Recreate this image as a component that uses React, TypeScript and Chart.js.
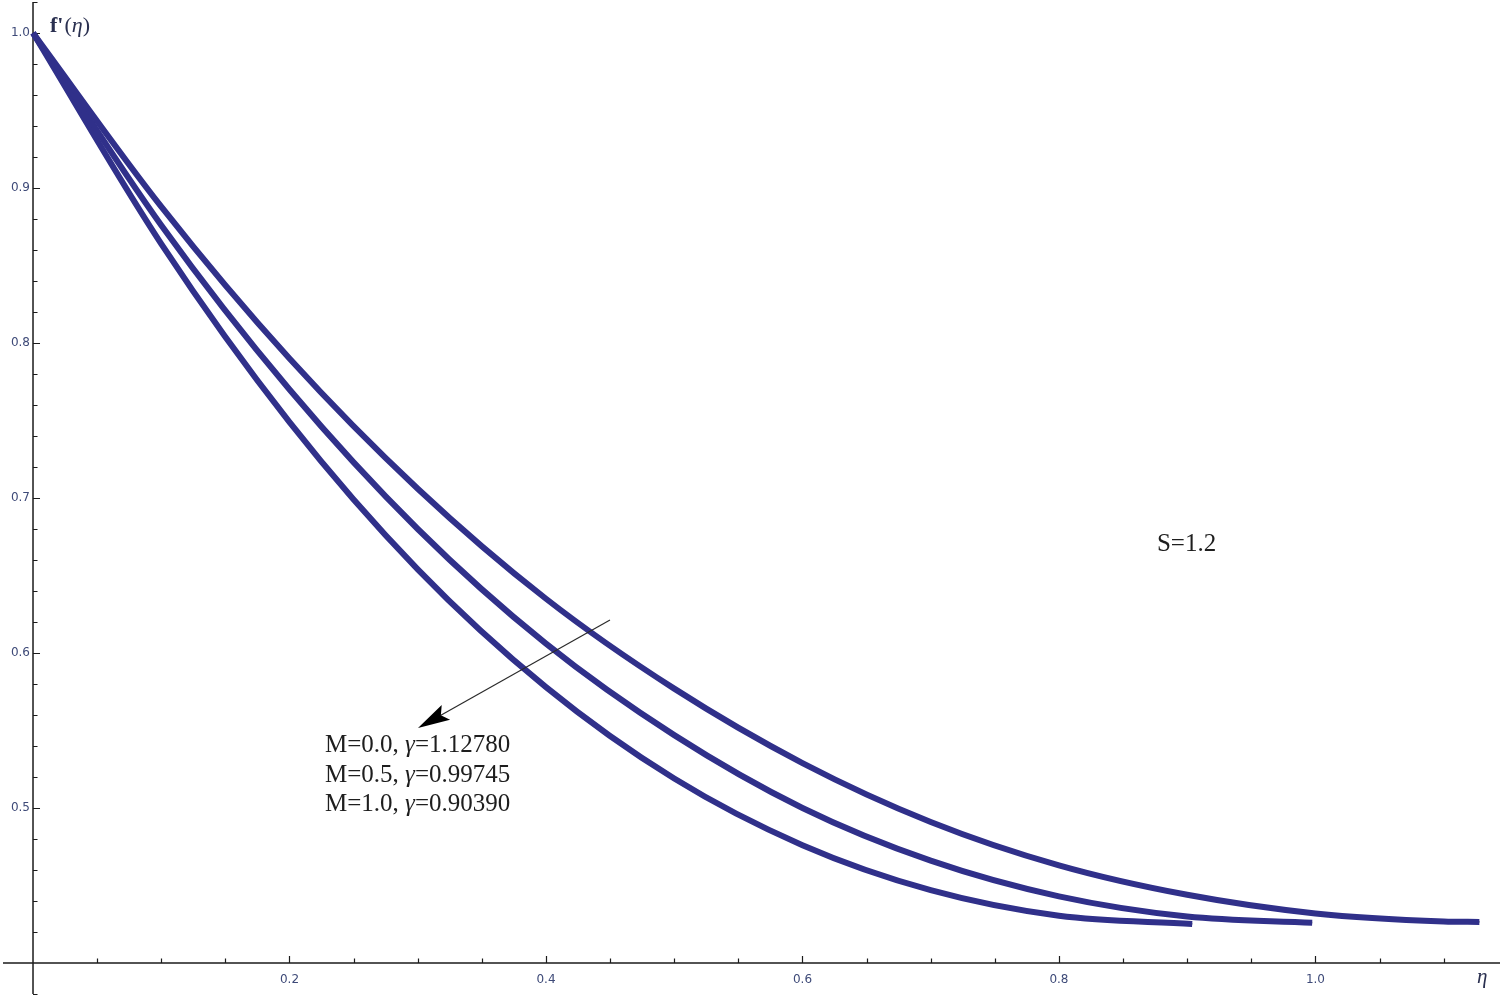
import React, { useEffect, useRef } from "react";
import { Chart, registerables } from "chart.js";

Chart.register(...registerables);

// ---- data ----
const etaM00 = [0, 0.1, 0.2, 0.3, 0.4, 0.5, 0.6, 0.7, 0.8, 0.9, 1.0, 1.1, 1.1278];
const fM00 = [1.0, 0.888, 0.79, 0.706, 0.635, 0.577, 0.529, 0.491, 0.463, 0.444, 0.432, 0.4268, 0.4265];

const etaM05 = [0, 0.1, 0.2, 0.3, 0.4, 0.5, 0.6, 0.7, 0.8, 0.9, 0.99745];
const fM05 = [1.0, 0.876, 0.77, 0.68, 0.606, 0.547, 0.5, 0.466, 0.443, 0.43, 0.426];

const etaM10 = [0, 0.1, 0.2, 0.3, 0.4, 0.5, 0.6, 0.7, 0.8, 0.9039];
const fM10 = [1.0, 0.864, 0.749, 0.654, 0.578, 0.519, 0.476, 0.447, 0.4305, 0.4252];

const xTickValues = [0.2, 0.4, 0.6, 0.8, 1.0];
const xTickLabels = ["0.2", "0.4", "0.6", "0.8", "1.0"];
const yTickValues = [0.5, 0.6, 0.7, 0.8, 0.9, 1.0];
const yTickLabels = ["0.5", "0.6", "0.7", "0.8", "0.9", "1.0"];
const xMinorValues = [0.05, 0.1, 0.15, 0.25, 0.3, 0.35, 0.45, 0.5, 0.55, 0.65, 0.7, 0.75, 0.85, 0.9, 0.95, 1.05, 1.1];
const yMinorValues = [0.38, 0.42, 0.44, 0.46, 0.48, 0.52, 0.54, 0.56, 0.58, 0.62, 0.64, 0.66, 0.68, 0.72, 0.74, 0.76, 0.78, 0.82, 0.84, 0.86, 0.88, 0.92, 0.94, 0.96, 0.98, 1.02];

const legendM = ["0.0", "0.5", "1.0"];
const legendGamma = ["1.12780", "0.99745", "0.90390"];
const paramText = "S=1.2";

const xMin = -0.0234;
const xMax = 1.1439;
const yMin = 0.38;
const yMax = 1.02;
const xAxisAt = 0.4;
const yAxisAt = 0;

const arrowFrom = { x: 0.4499, y: 0.6213 };
const arrowTo = { x: 0.3002, y: 0.5516 };
const paramPos = { x: 0.8764, y: 0.6658 };
const legendPos = { x: 0.2277, y: 0.5361 };

const toPts = (xs: number[], ys: number[]) => xs.map((x, i) => ({ x, y: ys[i] }));

const axesPlugin = {
  id: "mathAxes",
  beforeDatasetsDraw(chart: any) {
    const ctx = chart.ctx;
    const xs = chart.scales.x;
    const ys = chart.scales.y;
    const area = chart.chartArea;
    const x0 = xs.getPixelForValue(yAxisAt);
    const y0 = ys.getPixelForValue(xAxisAt);
    ctx.save();
    ctx.strokeStyle = "#1b1b1b";
    ctx.lineWidth = 1.5;
    ctx.beginPath();
    ctx.moveTo(area.left, y0);
    ctx.lineTo(area.right, y0);
    ctx.moveTo(x0, area.top);
    ctx.lineTo(x0, area.bottom);
    ctx.stroke();
    ctx.lineWidth = 1.2;
    ctx.beginPath();
    xTickValues.forEach((v) => {
      const px = Math.round(xs.getPixelForValue(v)) + 0.5;
      ctx.moveTo(px, y0);
      ctx.lineTo(px, y0 - 7);
    });
    xMinorValues.forEach((v) => {
      const px = Math.round(xs.getPixelForValue(v)) + 0.5;
      ctx.moveTo(px, y0);
      ctx.lineTo(px, y0 - 4.5);
    });
    yTickValues.forEach((v) => {
      const py = Math.round(ys.getPixelForValue(v)) + 0.5;
      ctx.moveTo(x0, py);
      ctx.lineTo(x0 + 7, py);
    });
    yMinorValues.forEach((v) => {
      const py = Math.round(ys.getPixelForValue(v)) + 0.5;
      ctx.moveTo(x0, py);
      ctx.lineTo(x0 + 4.5, py);
    });
    ctx.stroke();

    ctx.fillStyle = "#3e4a78";
    ctx.font = '12px "DejaVu Sans"';
    ctx.textAlign = "center";
    ctx.textBaseline = "alphabetic";
    xTickValues.forEach((v, i) => {
      ctx.fillText(xTickLabels[i], xs.getPixelForValue(v), y0 + 20);
    });
    ctx.textAlign = "right";
    ctx.textBaseline = "middle";
    yTickValues.forEach((v, i) => {
      ctx.fillText(yTickLabels[i], x0 - 3, ys.getPixelForValue(v));
    });
    ctx.restore();
  },
  afterDraw(chart: any) {
    const ctx = chart.ctx;
    const xs = chart.scales.x;
    const ys = chart.scales.y;
    const x0 = xs.getPixelForValue(yAxisAt);
    const y0 = ys.getPixelForValue(xAxisAt);
    ctx.save();

    // axis labels
    ctx.fillStyle = "#2a3050";
    ctx.textAlign = "left";
    ctx.textBaseline = "alphabetic";
    let cx = x0 + 17;
    const by = ys.getPixelForValue(1.0) - 1;
    const segs: [string, string][] = [
      ["f'", 'bold 22px "Liberation Serif"'],
      ["(", '22px "Liberation Serif"'],
      ["\u03b7", 'italic 22px "Liberation Serif"'],
      [")", '22px "Liberation Serif"'],
    ];
    segs.forEach(([t, f]) => {
      ctx.font = f;
      ctx.fillText(t, cx, by);
      cx += ctx.measureText(t).width + (t === "f'" ? 1 : 0);
    });
    ctx.font = 'italic 21px "Liberation Serif"';
    ctx.textAlign = "center";
    ctx.fillText("\u03b7", xs.getPixelForValue(1.13), y0 + 20);

    // arrow
    const fx = xs.getPixelForValue(arrowFrom.x);
    const fy = ys.getPixelForValue(arrowFrom.y);
    const tx = xs.getPixelForValue(arrowTo.x);
    const ty = ys.getPixelForValue(arrowTo.y);
    const dx = tx - fx;
    const dy = ty - fy;
    const len = Math.hypot(dx, dy);
    const ux = dx / len;
    const uy = dy / len;
    const hl = 32;
    const hw = 8.5;
    const bx = tx - ux * hl;
    const byy = ty - uy * hl;
    const nx = tx - ux * hl * 0.82;
    const ny = ty - uy * hl * 0.82;
    ctx.strokeStyle = "#2a2a2a";
    ctx.lineWidth = 1.2;
    ctx.beginPath();
    ctx.moveTo(fx, fy);
    ctx.lineTo(nx, ny);
    ctx.stroke();
    ctx.fillStyle = "#000";
    ctx.beginPath();
    ctx.moveTo(tx, ty);
    ctx.lineTo(bx - uy * hw, byy + ux * hw);
    ctx.lineTo(nx, ny);
    ctx.lineTo(bx + uy * hw, byy - ux * hw);
    ctx.closePath();
    ctx.fill();

    // texts
    ctx.fillStyle = "#1e1e1e";
    ctx.textAlign = "left";
    ctx.textBaseline = "alphabetic";
    ctx.font = '25px "Liberation Serif"';
    ctx.fillText(paramText, xs.getPixelForValue(paramPos.x), ys.getPixelForValue(paramPos.y));

    const lx = xs.getPixelForValue(legendPos.x);
    const ly = ys.getPixelForValue(legendPos.y);
    legendM.forEach((m, i) => {
      const yy = ly + i * 29.7;
      let xx = lx;
      const parts: [string, string][] = [
        ["M=" + m + ", ", '25px "Liberation Serif"'],
        ["\u03b3", 'italic 25px "Liberation Serif"'],
        ["=" + legendGamma[i], '25px "Liberation Serif"'],
      ];
      parts.forEach(([t, f]) => {
        ctx.font = f;
        ctx.fillText(t, xx, yy);
        xx += ctx.measureText(t).width;
      });
    });
    ctx.restore();
  },
};

const band = "#30308a";
const core = "#171744";

export default function App() {
  const ref = useRef<HTMLCanvasElement | null>(null);
  useEffect(() => {
    if (!ref.current) return;
    const series = [toPts(etaM00, fM00), toPts(etaM05, fM05), toPts(etaM10, fM10)];
    const datasets: any[] = [];
    series.forEach((d, i) => {
      datasets.push({
        label: "band" + i,
        data: d,
        borderColor: band,
        borderWidth: 6,
        pointRadius: 0,
        fill: false,
        cubicInterpolationMode: "monotone",
        borderCapStyle: "butt",
      });
      datasets.push({
        label: "core" + i,
        data: d,
        borderColor: core,
        borderWidth: 1.8,
        pointRadius: 0,
        fill: false,
        cubicInterpolationMode: "monotone",
        borderCapStyle: "butt",
      });
    });
    const chart = new Chart(ref.current, {
      type: "line",
      data: { datasets },
      options: {
        animation: false,
        responsive: false,
        devicePixelRatio: 1,
        layout: { padding: { left: 3, right: 5, top: 2, bottom: 3 } },
        plugins: { legend: { display: false }, tooltip: { enabled: false }, title: { display: false } },
        scales: {
          x: { type: "linear", min: xMin, max: xMax, display: false },
          y: { type: "linear", min: yMin, max: yMax, display: false },
        },
      },
      plugins: [axesPlugin],
    });
    return () => chart.destroy();
  }, []);
  return (
    <div style={{ position: "fixed", left: 0, top: 0, width: 1505, height: 997, background: "#fff" }}>
      <canvas ref={ref} width={1505} height={997} style={{ display: "block" }} />
    </div>
  );
}
